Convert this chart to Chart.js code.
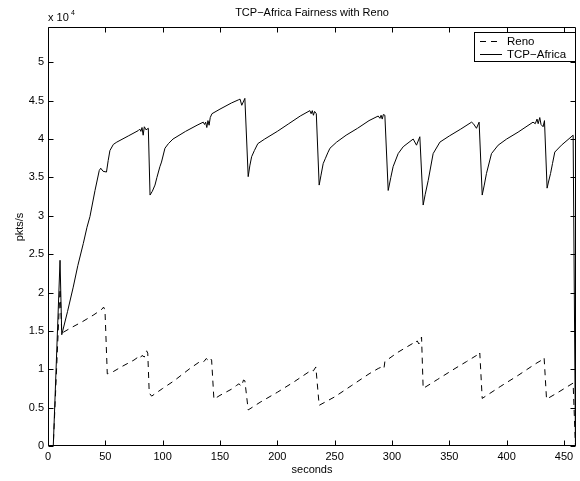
<!DOCTYPE html>
<html>
<head>
<meta charset="utf-8">
<script src="https://cdn.jsdelivr.net/npm/chart.js@4/dist/chart.umd.min.js"></script>
<style>
  html, body { margin: 0; padding: 0; background: #fff; }
</style>
</head>
<body>
<canvas id="chart" width="580" height="481"></canvas>
<script>
// Data (values in units of 10^4 pkts/s)
const TITLE = 'TCP\u2212Africa Fairness with Reno';
const Y_TITLE = 'pkts/s';
const X_TICKS = [0, 50, 100, 150, 200, 250, 300, 350, 400, 450];
const Y_TICKS = [0, 0.5, 1, 1.5, 2, 2.5, 3, 3.5, 4, 4.5, 5];
const Y_TICK_LABELS = ['0', '0.5', '1', '1.5', '2', '2.5', '3', '3.5', '4', '4.5', '5'];

const renoTime = [0, 4.6, 10.5, 12, 20, 30, 40, 46.8, 48.5, 49.7, 51.7, 57, 65, 75, 78.7, 80, 82, 84, 86, 87,
  88.3, 90.4, 100, 110, 123.8, 132.5, 136, 138, 139.5, 141, 142.7, 144.7, 150, 160, 164.5, 166.5, 168.8, 170.5, 171.7,
  174.6, 185, 200, 215, 229.9, 231.5, 233.6, 236.5, 250, 265, 280, 288, 291, 293, 293.8, 305, 318.5, 320, 322, 323.5,
  325.8, 327.2, 340, 355, 365, 373.7, 375, 376.6, 378.7, 395, 410, 425, 431.8, 432.7, 434.8, 445, 458, 460];
const renoRate = [0, 0, 2.05, 1.47, 1.54, 1.62, 1.71, 1.78, 1.81, 1.77, 0.94, 0.97, 1.04, 1.12, 1.16, 1.14, 1.18, 1.16, 1.24, 1.21,
  0.69, 0.65, 0.75, 0.85, 1.01, 1.10, 1.10, 1.14, 1.12, 1.15, 1.12, 0.61, 0.66, 0.74, 0.79, 0.81, 0.78, 0.86, 0.85,
  0.47, 0.57, 0.70, 0.84, 0.99, 0.98, 1.03, 0.53, 0.64, 0.79, 0.94, 1.01, 1.03, 1.01, 1.10, 1.22, 1.34, 1.33, 1.37, 1.33,
  1.42, 0.75, 0.87, 1.01, 1.10, 1.18, 1.16, 1.21, 0.62, 0.78, 0.92, 1.07, 1.13, 1.15, 0.61, 0.70, 0.82, 0];

const africaTime = [0, 4.6, 10.5, 12, 17, 22, 26, 30.8, 34, 36.6, 41, 44.7, 46, 48, 51, 52.5, 54, 57, 60, 70, 78.7, 80, 81,
  82, 83, 84, 85.5, 87.5, 89, 91, 93.3, 95, 97.6, 99, 102, 105, 109, 120, 130, 135.4, 136.5, 137.5, 138.5, 139.5, 140.5,
  141.5, 143, 150, 160, 166, 167.5, 169, 171.7, 174.6, 176, 177.6, 180, 183, 189, 200, 210, 220, 228.4, 229.5, 230.5,
  231.5, 232.5, 234, 236.5, 238, 240, 242, 244, 245.9, 251.7, 260, 270, 280, 288, 289.5, 290.5, 291.5, 292.5, 293.8,
  296.7, 299, 301, 305.4, 309.8, 318.5, 321.4, 324.3, 327.2, 329, 331.6, 335.9, 341.8, 350, 360, 369.4, 371, 373.7, 376,
  378.7, 380.5, 382.4, 386.8, 392.6, 400, 410, 423, 425, 426.5, 427.5, 428.9, 430, 431.8, 433, 435.3, 436.5, 438.3, 440,
  442, 447.8, 458, 460];
const africaRate = [0, 0, 2.42, 1.45, 1.75, 2.07, 2.35, 2.64, 2.85, 2.99, 3.33, 3.59, 3.62, 3.58, 3.57, 3.72, 3.85, 3.93, 3.96, 4.04, 4.11, 4.13, 4.10,
  4.15, 4.05, 4.16, 4.12, 4.14, 3.27, 3.32, 3.40, 3.50, 3.64, 3.70, 3.88, 3.94, 4.00, 4.10, 4.18, 4.22, 4.19, 4.22, 4.15, 4.24, 4.18,
  4.28, 4.33, 4.39, 4.47, 4.51, 4.52, 4.44, 4.53, 3.51, 3.65, 3.77, 3.85, 3.94, 4.00, 4.10, 4.20, 4.30, 4.37, 4.33, 4.37,
  4.31, 4.36, 4.33, 3.40, 3.52, 3.68, 3.75, 3.82, 3.88, 3.96, 4.05, 4.14, 4.24, 4.30, 4.27, 4.31, 4.26, 4.32, 4.31,
  3.33, 3.50, 3.64, 3.81, 3.90, 4.00, 3.92, 4.03, 3.14, 3.28, 3.46, 3.81, 3.96, 4.04, 4.13, 4.22, 4.20, 4.14, 4.22,
  3.27, 3.40, 3.55, 3.81, 3.92, 4.00, 4.09, 4.22, 4.20, 4.26, 4.20, 4.28, 4.19, 4.16, 4.24, 3.36, 3.44, 3.55, 3.68,
  3.83, 3.92, 4.05, 0.05];

const FONT = '"Liberation Sans", Arial, Helvetica, sans-serif';

function toPoints(xs, ys) {
  return xs.map((x, i) => ({ x: x, y: ys[i] }));
}

// draws the box, inward ticks, title, exponent and legend like a MATLAB figure
const matlabFrame = {
  id: 'matlabFrame',
  afterDraw(chart) {
    const { ctx, chartArea: a, scales: { x, y } } = chart;
    const L = Math.round(a.left) + 0.5, R = Math.round(a.right) - 0.5;
    const T = Math.round(a.top) + 0.5, B = Math.round(a.bottom) - 0.5;
    ctx.save();
    ctx.strokeStyle = '#000';
    ctx.lineWidth = 1;
    ctx.beginPath();
    ctx.rect(L, T, R - L, B - T);
    X_TICKS.forEach((v) => {
      const px = Math.round(x.getPixelForValue(v)) + 0.5;
      ctx.moveTo(px, B); ctx.lineTo(px, B - 5);
      ctx.moveTo(px, T); ctx.lineTo(px, T + 5);
    });
    Y_TICKS.forEach((v) => {
      const py = Math.round(y.getPixelForValue(v)) + 0.5;
      ctx.moveTo(L, py); ctx.lineTo(L + 5, py);
      ctx.moveTo(R, py); ctx.lineTo(R - 5, py);
    });
    ctx.stroke();

    // title
    ctx.fillStyle = '#000';
    ctx.font = '11px ' + FONT;
    ctx.textAlign = 'center';
    ctx.textBaseline = 'alphabetic';
    ctx.fillText(TITLE, (a.left + a.right) / 2, 16);

    // y axis label, sits a little above the middle like MATLAB does
    ctx.save();
    ctx.translate(20, 227);
    ctx.rotate(-Math.PI / 2);
    ctx.textBaseline = 'middle';
    ctx.fillText(Y_TITLE, 0, 0);
    ctx.restore();

    // x 10^4
    ctx.textAlign = 'left';
    ctx.font = '11px ' + FONT;
    ctx.fillText('x 10', a.left, 21);
    ctx.font = '7px ' + FONT;
    ctx.fillText('4', a.left + 23, 15);

    // legend
    const lx = 474.5, ly = 32.5, lw = R - 474.5, lh = 29;
    ctx.fillStyle = '#fff';
    ctx.fillRect(lx, ly, lw, lh);
    ctx.strokeRect(lx, ly, lw, lh);
    ctx.fillStyle = '#000';
    ctx.font = '11.5px ' + FONT;
    ctx.textBaseline = 'middle';
    chart.data.datasets.forEach((ds, i) => {
      const cy = Math.round(ly + 8 + i * 13) + 0.5;
      ctx.setLineDash(ds.borderDash || []);
      ctx.beginPath();
      ctx.moveTo(480, cy);
      ctx.lineTo(502, cy);
      ctx.stroke();
      ctx.setLineDash([]);
      ctx.fillText(ds.label, 507, cy);
    });
    ctx.restore();
  }
};

const chart = new Chart(document.getElementById('chart'), {
  type: 'scatter',
  data: {
    datasets: [
      {
        label: 'Reno',
        data: toPoints(renoTime, renoRate),
        showLine: true,
        borderColor: '#000',
        borderWidth: 1,
        borderDash: [6, 5],
        pointRadius: 0,
        tension: 0,
      },
      {
        label: 'TCP\u2212Africa',
        data: toPoints(africaTime, africaRate),
        showLine: true,
        borderColor: '#000',
        borderWidth: 1,
        pointRadius: 0,
        tension: 0,
      },
    ],
  },
  options: {
    responsive: false,
    animation: false,
    devicePixelRatio: 1,
    layout: { padding: { top: 27, right: 4, bottom: 0, left: 0 } },
    plugins: {
      legend: { display: false },
      title: { display: false },
      tooltip: { enabled: false },
    },
    scales: {
      x: {
        type: 'linear',
        min: 0,
        max: 460.5,
        afterBuildTicks: (scale) => { scale.ticks = X_TICKS.map((v) => ({ value: v })); },
        afterFit: (scale) => { scale.height = 35; },
        grid: { display: false, drawTicks: false, tickLength: 0 },
        border: { display: false },
        ticks: { color: '#000', padding: 4, maxRotation: 0, font: { family: FONT, size: 11 } },
        title: { display: true, text: 'seconds', color: '#000', padding: { top: 0, bottom: 4 }, font: { family: FONT, size: 11 } },
      },
      y: {
        type: 'linear',
        min: 0,
        max: 5.46,
        afterBuildTicks: (scale) => { scale.ticks = Y_TICKS.map((v) => ({ value: v })); },
        afterFit: (scale) => { scale.width = 48; },
        grid: { display: false, drawTicks: false, tickLength: 0 },
        border: { display: false },
        ticks: {
          color: '#000',
          padding: 4,
          font: { family: FONT, size: 11 },
          callback: (value) => Y_TICK_LABELS[Y_TICKS.indexOf(value)],
        },
        title: { display: false },
      },
    },
  },
  plugins: [matlabFrame],
});
</script>
</body>
</html>
